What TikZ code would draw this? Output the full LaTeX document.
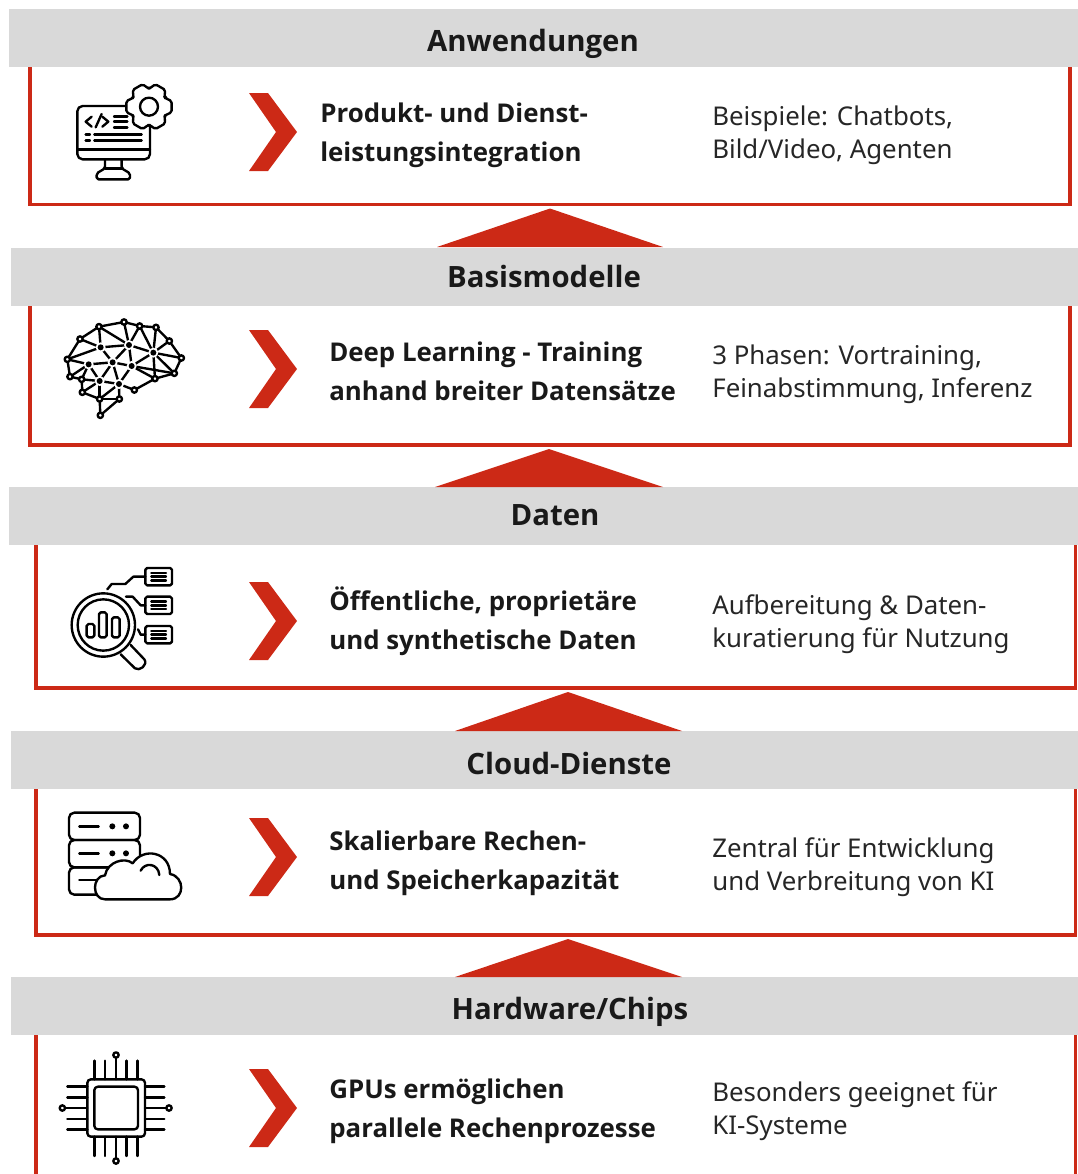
\documentclass[tikz,border=0pt]{standalone}
\usepackage{fontspec}
\setmainfont{Noto Sans}
\newfontfamily\headfont{Open Sans}
\usetikzlibrary{positioning, calc}
\definecolor{stackred}{HTML}{CC2916}
\definecolor{bandgray}{HTML}{D9D9D9}
\tikzset{
    bandbox/.style={fill=bandgray, draw=none},
    bandtitle/.style={font=\headfont\bfseries\fontsize{16.7}{20}\selectfont, text=black!90, inner sep=0pt},
    layerframe/.style={draw=stackred, line width=2.2pt, line join=miter},
    uparrow/.style={fill=stackred, draw=none},
    chevronmark/.style={fill=stackred, draw=none},
    boldtext/.style={anchor=west, align=left, inner sep=0pt, font=\headfont\bfseries\fontsize{14.7}{22}\selectfont, text=black!90},
    plaintext/.style={anchor=west, align=left, inner sep=0pt, font=\fontsize{14.7}{18.7}\selectfont, text=black!85},
    iconline/.style={line width=1.35pt, line cap=round, line join=round, black},
    iconscale/.style={x=0.00667cm, y=-0.00667cm}
}
\begin{document}
\begin{tikzpicture}[x=0.02cm, y=-0.02cm]
    \useasboundingbox (0,0) rectangle (1078,1174);
    % Frames below the bands
    \draw[layerframe] (30,60) -- (30,204.5) -- (1070,204.5) -- (1070,60);
    \draw[layerframe] (30,300) -- (30,445) -- (1070,445) -- (1070,300);
    \draw[layerframe] (36,540) -- (36,688) -- (1075.5,688) -- (1075.5,540);
    \draw[layerframe] (36,780) -- (36,935) -- (1075.5,935) -- (1075.5,780);
    \draw[layerframe] (36,1030) -- (36,1180);
    \draw[layerframe] (1075.5,1030) -- (1075.5,1180);
    % Grey bands
    \fill[bandbox] (9,9) rectangle (1078,67);
    \fill[bandbox] (11,248) rectangle (1078,306);
    \fill[bandbox] (9,487) rectangle (1078,545);
    \fill[bandbox] (11,731) rectangle (1078,789);
    \fill[bandbox] (11,977) rectangle (1078,1035);
    \node[bandtitle] (anwendungen) at (533,44) {Anwendungen};
    \node[bandtitle] (basismodelle) at (544,276) {Basismodelle};
    \node[bandtitle] (daten) at (555,515) {Daten};
    \node[bandtitle] (cloud) at (569,763) {Cloud-Dienste};
    \node[bandtitle] (hardware) at (570,1012) {Hardware/Chips};
    % Triangles between layers
    \fill[uparrow] (437,247) -- (550,208.5) -- (663,247) -- cycle;
    \fill[uparrow] (435,487) -- (549,449) -- (663,487) -- cycle;
    \fill[uparrow] (455,731) -- (568,692) -- (682,731) -- cycle;
    \fill[uparrow] (455,977) -- (568,939) -- (682,977) -- cycle;
    % Chevrons
    \foreach \cy in {132,369,621,857,1108}
        \fill[chevronmark] (249,\cy-39) -- (268,\cy-39) -- (297,\cy) -- (268,\cy+39) -- (249,\cy+39) -- (276,\cy) -- cycle;
    % Middle column
    \node[boldtext] (produkt) at (320,135) {Produkt- und Dienst-\\leistungsintegration};
    \node[boldtext] (deep) at (329,371) {Deep Learning - Training\\anhand breiter Datensätze};
    \node[boldtext] (oeffentlich) at (329,621) {Öffentliche, proprietäre\\und synthetische Daten};
    \node[boldtext] (skalierbar) at (329,863) {Skalierbare Rechen-\\und Speicherkapazität};
    \node[boldtext] (gpus) at (329,1111) {GPUs ermöglichen\\parallele Rechenprozesse};
    % Right column
    \node[plaintext] (beispiele) at (712,135) {Beispiele: Chatbots,\\Bild/Video, Agenten};
    \node[plaintext] (phasen) at (712,374) {3 Phasen: Vortraining,\\Feinabstimmung, Inferenz};
    \node[plaintext] (aufbereitung) at (712,624) {Aufbereitung \& Daten-\\kuratierung für Nutzung};
    \node[plaintext] (zentral) at (712,867) {Zentral für Entwicklung\\und Verbreitung von KI};
    \node[plaintext] (besonders) at (712,1111) {Besonders geeignet für\\KI-Systeme};
    % Icon: monitor with gear
    \begin{scope}[shift={(50,70)}, iconscale, iconline]
        \draw[rounded corners=3pt] (225,108) -- (82,108) -- (82,268) -- (300,268) -- (300,165);
        \draw (82,238) -- (300,238);
        \draw[rounded corners=1pt] (165,268) -- (165,295) -- (140,310) -- (140,328) -- (240,328) -- (240,310) -- (215,295) -- (215,268);
        \draw (165,295) -- (215,295);
        \draw (125,140) -- (107,155) -- (125,170);
        \draw (155,132) -- (137,172);
        \draw (157,140) -- (175,155) -- (157,170);
        \foreach \ly in {140,155,172}
            \draw (192,\ly) -- (232,\ly);
        \draw (107,193) -- (120,193);
        \draw (133,193) -- (275,193);
        \draw (107,212) -- (120,212);
        \draw (133,212) -- (275,212);
        \draw[shift={(297,110)}, rounded corners=1pt, fill=white] (-28:55)
            \foreach \a in {0,60,...,300} {
                -- ({\a-28}:55) -- ({\a-14}:70) -- ({\a+14}:70) -- ({\a+28}:55)
            } -- cycle;
        \draw (297,110) circle (27);
    \end{scope}
    % Icon: brain network
    \begin{scope}[shift={(50,310)}, iconscale, iconline]
        \foreach \n/\px/\py in {a/52/148, b/90/87, c/147/50, d/222/36, e/269/48, f/318/52, g/358/93, h/394/144,
            i/373/190, j/315/206, k/253/240, l/208/267, m/149/267, n/97/247, o/60/200, p/95/208, q/151/316,
            A/152/112, B/237/105, C/310/128, D/116/163, E/188/157, F/245/168, G/149/213, H/207/222}
            \coordinate (br\n) at (\px,\py);
        \foreach \u/\v in {a/b, b/c, c/d, d/e, e/f, f/g, g/h, h/i, i/j, j/k, k/H, a/o, o/p, p/n, n/m, m/l, m/q, q/l,
            c/A, d/B, e/B, e/C, f/C, g/C, h/C, i/C, j/C, b/A, a/A, A/B, B/C, a/D, o/D, D/E, E/F, F/C, B/F, A/E, B/E,
            D/G, E/G, E/H, F/H, G/H, p/G, n/G, H/l, H/m, G/m, F/j, F/i, c/B, p/D}
            \draw (br\u) -- (br\v);
        \foreach \n in {a,b,c,d,e,f,g,h,i,j,k,l,m,n,o,p,q}
            \draw[fill=white] (br\n) circle (8);
        \foreach \n in {A,B,C,D,E,F,G,H} {
            \fill[white] (br\n) circle (15);
            \fill (br\n) circle (9);
        }
    \end{scope}
    % Icon: magnifier with chart
    \begin{scope}[shift={(50,560)}, iconscale, iconline]
        \draw (160,195) circle (95);
        \draw (160,195) circle (77);
        \draw[rounded corners=1pt] (110,192) rectangle (133,232);
        \draw[rounded corners=1pt] (147,157) rectangle (170,232);
        \draw[rounded corners=1pt] (186,172) rectangle (209,232);
        \draw (212,283) -- (255,325) .. controls (268,335) and (295,315) .. (283,298) -- (242,255);
        \foreach \by in {50,136,224} {
            \draw[rounded corners=1pt] (286,\by-26) rectangle (366,\by+26);
            \draw (304,\by-11) -- (348,\by-11);
            \draw (304,\by) -- (348,\by);
            \draw (304,\by+11) -- (348,\by+11);
        }
        \draw (172,88) -- (185,72) -- (226,72) -- (250,50) -- (286,50);
        \draw (228,110) -- (248,110) -- (272,136) -- (286,136);
        \draw (264,208) -- (272,224) -- (286,224);
    \end{scope}
    % Icon: server with cloud
    \begin{scope}[shift={(50,800)}, iconscale, iconline]
        \draw[rounded corners=3pt] (57,38) rectangle (270,120);
        \draw[rounded corners=3pt] (57,120) rectangle (270,202);
        \draw[rounded corners=3pt] (185,202) -- (57,202) -- (57,284) -- (140,284);
        \draw (88,79) -- (146,79);
        \draw (88,160) -- (146,160);
        \draw (88,240) -- (140,240);
        \foreach \dy in {79,160} {
            \fill (187,\dy) circle (9);
            \fill (228,\dy) circle (9);
        }
        \draw[fill=white] (165,298) .. controls (125,298) and (125,228) .. (165,226)
            .. controls (172,185) and (225,170) .. (248,190)
            .. controls (280,140) and (360,155) .. (360,222)
            .. controls (405,230) and (405,298) .. (360,298) -- cycle;
        \draw (272,212) .. controls (285,185) and (325,190) .. (328,225);
    \end{scope}
    % Icon: chip
    \begin{scope}[shift={(50,1040)}, iconscale, iconline]
        \draw[rounded corners=2pt] (112,118) rectangle (285,290);
        \draw[rounded corners=2pt] (133,140) rectangle (264,268);
        \foreach \p in {133,165,230,263} {
            \draw (\p,62) -- (\p,118);
            \draw (\p,290) -- (\p,348);
        }
        \foreach \p in {140,172,237,269} {
            \draw (52,\p) -- (112,\p);
            \draw (285,\p) -- (343,\p);
        }
        \draw (198,52) -- (198,118);
        \draw (198,290) -- (198,356);
        \draw (45,204) -- (112,204);
        \draw (285,204) -- (350,204);
        \draw (198,45) circle (8);
        \draw (198,363) circle (8);
        \draw (37,204) circle (8);
        \draw (357,204) circle (8);
    \end{scope}
\end{tikzpicture}
\end{document}
